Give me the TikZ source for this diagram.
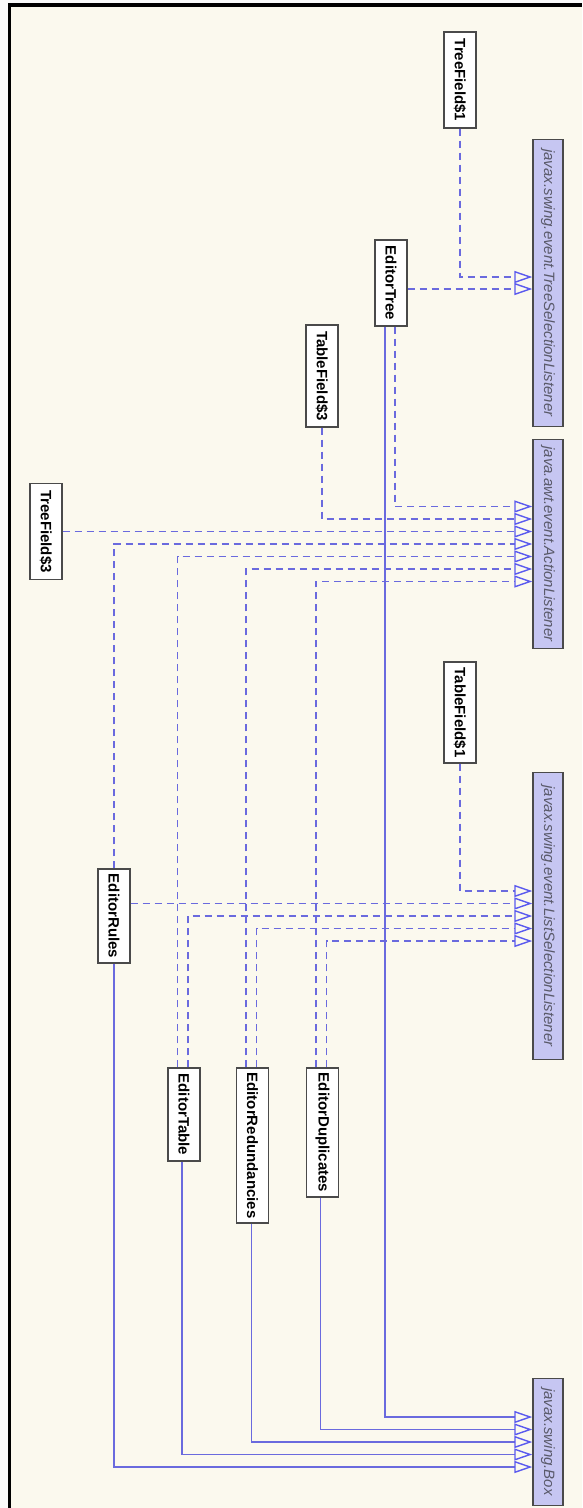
\documentclass[tikz,border=0pt]{standalone}
\usepackage{fontspec}
\setmainfont{Liberation Sans}
\usepackage{graphicx}
\usepackage{tikz}
\usetikzlibrary{arrows.meta}
\definecolor{umlbg}{HTML}{FBF9EE}
\definecolor{umlline}{HTML}{6A6ADE}
\definecolor{umltip}{HTML}{5A5AEE}
\definecolor{umlifill}{HTML}{C6C6F2}
\definecolor{umlborder}{HTML}{4A4A4A}
\definecolor{umlitext}{HTML}{5A5A6A}
\newcommand{\vlabel}[1]{\rotatebox{-90}{#1}}
\tikzset{
  cls/.style     = {draw=umlborder, fill=white, line width=1.4pt, inner sep=0pt,
                    minimum width=32pt, font=\fontsize{15}{15}\selectfont\bfseries},
  iface/.style   = {draw=umlborder, fill=umlifill, line width=1.4pt, inner sep=0pt,
                    minimum width=30pt, text=umlitext,
                    font=\fontsize{15}{15}\selectfont\itshape},
  %
  extend/.style  = {draw=umlline, line width=1.4pt,
                    -{Triangle[open, length=18pt, width=12pt, color=umltip]}},
  realize/.style = {extend, dash pattern=on 7pt off 5pt},
}

\begin{document}
\begin{tikzpicture}[x=1pt, y=-1pt]

  % ---- frame ------------------------------------------------------------
  \fill[white!96!gray] (0,0) rectangle (582,1508);
  \fill[umlbg] (8,3) rectangle (582,1508);
  \fill[black] (8,3) rectangle (582,7);
  \fill[black] (8,3) rectangle (11,1508);
  \useasboundingbox (0,0) rectangle (582,1508);

  % ---- interfaces and base class ---------------------------------------
  \node[iface, minimum height=287pt] (tsl) at (548, 283)
    {\vlabel{javax.swing.event.TreeSelectionListener}};
  \node[iface, minimum height=209pt] (al) at (548, 544)
    {\vlabel{java.awt.event.ActionListener}};
  \node[iface, minimum height=287pt] (lsl) at (548, 916)
    {\vlabel{javax.swing.event.ListSelectionListener}};
  \node[iface, minimum height=127pt] (box) at (548, 1442)
    {\vlabel{javax.swing.Box}};

  % ---- classes ------------------------------------------------------------
  \node[cls, minimum height=96pt]  (tf1)    at (460, 80)     {\vlabel{TreeField\$1}};
  \node[cls, minimum height=86pt]  (etree)  at (391, 283)    {\vlabel{EditorTree}};
  \node[cls, minimum height=102pt] (tf3b)   at (322, 376)    {\vlabel{TableField\$3}};
  \node[cls, minimum height=96pt]  (tf3)    at (46, 531.5)   {\vlabel{TreeField\$3}};
  \node[cls, minimum height=101pt] (tf1b)   at (460, 712.5)  {\vlabel{TableField\$1}};
  \node[cls, minimum height=94pt]  (erules) at (114, 916)    {\vlabel{EditorRules}};
  \node[cls, minimum height=93pt]  (etable) at (184, 1114.5) {\vlabel{EditorTable}};
  \node[cls, minimum height=155pt] (ered)   at (252.5, 1145.5) {\vlabel{EditorRedundancies}};
  \node[cls, minimum height=129pt] (edup)   at (322.5, 1132.5) {\vlabel{EditorDuplicates}};

  % ---- TreeSelectionListener -------------------------------------------
  \draw[realize] (tf1.south) |- ([yshift=6pt]tsl.west);
  \draw[realize] ([yshift=-6pt]etree.east) -- ([yshift=-6pt]etree.east -| tsl.west);

  % ---- ActionListener ----------------------------------------------------
  \draw[realize] ([xshift=4pt]etree.south) |- ([yshift=37.5pt]al.west);
  \draw[realize] (tf3b.south) |- ([yshift=25pt]al.west);
  \draw[realize] (tf3.east) -- (tf3.east -| al.west);
  \draw[realize] (erules.north) |- (al.west);
  \draw[realize] ([xshift=-6.5pt]etable.north) |- ([yshift=-12.5pt]al.west);
  \draw[realize] ([xshift=-6.5pt]ered.north) |- ([yshift=-25pt]al.west);
  \draw[realize] ([xshift=-6.5pt]edup.north) |- ([yshift=-37.5pt]al.west);

  % ---- ListSelectionListener ---------------------------------------------
  \draw[realize] (tf1b.south) |- ([yshift=25pt]lsl.west);
  \draw[realize] ([yshift=12.5pt]erules.east) -- ([yshift=12.5pt]lsl.west);
  \draw[realize] ([xshift=4pt]etable.north) |- (lsl.west);
  \draw[realize] ([xshift=4pt]ered.north) |- ([yshift=-12.5pt]lsl.west);
  \draw[realize] ([xshift=4pt]edup.north) |- ([yshift=-25pt]lsl.west);

  % ---- Box ---------------------------------------------------------------
  \draw[extend] ([xshift=-6pt]etree.south) |- ([yshift=25pt]box.west);
  \draw[extend] ([xshift=-2pt]edup.south) |- ([yshift=12.5pt]box.west);
  \draw[extend] ([xshift=-1pt]ered.south) |- (box.west);
  \draw[extend] ([xshift=-2pt]etable.south) |- ([yshift=-12.5pt]box.west);
  \draw[extend] (erules.south) |- ([yshift=-25pt]box.west);

\end{tikzpicture}
\end{document}
